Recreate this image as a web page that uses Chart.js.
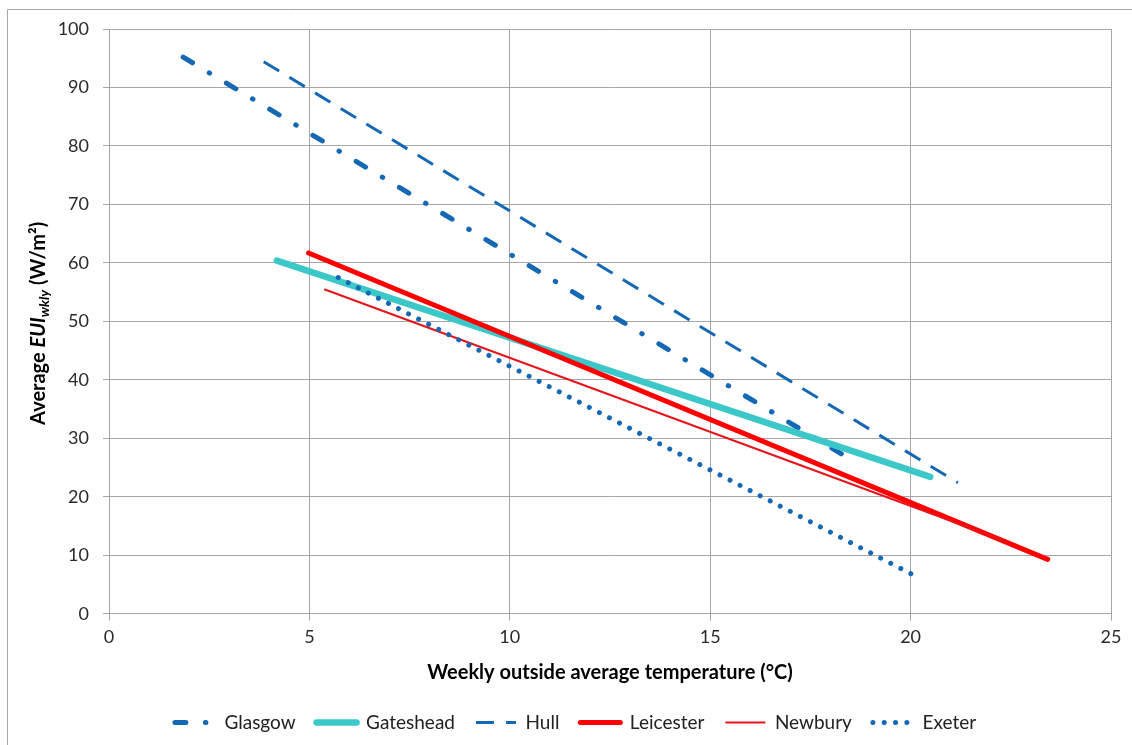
<!DOCTYPE html>
<html>
<head>
<meta charset="utf-8">
<script src="https://cdn.jsdelivr.net/npm/chart.js@4.4.1/dist/chart.umd.min.js"></script>
<style>
  html, body { margin: 0; padding: 0; background: #ffffff; }
  #wrap { width: 1132px; height: 745px; position: relative; }
</style>
</head>
<body>
<div id="wrap"><canvas id="c" width="1132" height="745"></canvas></div>
<script>
// ---- data ----
const seriesNames = ["Glasgow", "Gateshead", "Hull", "Leicester", "Newbury", "Exeter"];
const glasgowX   = [1.85, 18.5];
const glasgowY   = [95.2, 26.4];
const gatesheadX = [4.19, 20.49];
const gatesheadY = [60.4, 23.4];
const hullX      = [3.86, 21.18];
const hullY      = [94.4, 22.4];
const leicesterX = [4.98, 23.42];
const leicesterY = [61.7, 9.3];
const newburyX   = [5.37, 22.3];
const newburyY   = [55.5, 12.6];
const exeterX    = [5.72, 20.03];
const exeterY    = [57.5, 6.75];
const xTickValues = [0, 5, 10, 15, 20, 25];
const yTickValues = [0, 10, 20, 30, 40, 50, 60, 70, 80, 90, 100];

const FONT = "Lato, 'Open Sans', 'DejaVu Sans', sans-serif";
const BLUE = "#1568b3";
const TEAL = "#3cc8c8";
const RED = "#ff0000";
const RED2 = "#e8141b";

function pts(xs, ys) { return xs.map((x, i) => ({ x: x, y: ys[i] })); }

const styles = [
  { color: BLUE, width: 5,   dash: [11, 19.5, 0.5, 19.5], cap: "round", order: 5 },
  { color: TEAL, width: 6.5, dash: [],                   cap: "round", order: 4 },
  { color: BLUE, width: 3,   dash: [18, 12],             cap: "butt",  order: 3 },
  { color: RED,  width: 5,   dash: [],                   cap: "round", order: 2 },
  { color: RED2, width: 2,   dash: [],                   cap: "butt",  order: 1 },
  { color: BLUE, width: 5,   dash: [0.01, 11.3],         cap: "round", order: 0 }
];
const seriesData = [
  pts(glasgowX, glasgowY), pts(gatesheadX, gatesheadY), pts(hullX, hullY),
  pts(leicesterX, leicesterY), pts(newburyX, newburyY), pts(exeterX, exeterY)
];

const datasets = seriesNames.map((name, i) => ({
  label: name,
  data: seriesData[i],
  showLine: true,
  fill: false,
  borderColor: styles[i].color,
  backgroundColor: styles[i].color,
  borderWidth: styles[i].width,
  borderDash: styles[i].dash,
  borderCapStyle: styles[i].cap,
  pointRadius: 0,
  pointHoverRadius: 0,
  pointStyle: "line",
  tension: 0,
  order: styles[i].order
}));

const framePlugin = {
  id: "frame",
  beforeDraw(chart) {
    const ctx = chart.ctx;
    ctx.save();
    ctx.fillStyle = "#ffffff";
    ctx.fillRect(0, 0, chart.width, chart.height);
    ctx.strokeStyle = "#a6a6a6";
    ctx.lineWidth = 1;
    ctx.beginPath();
    ctx.moveTo(7.5, 745);
    ctx.lineTo(7.5, 9.5);
    ctx.lineTo(1132, 9.5);
    ctx.stroke();
    ctx.restore();
  }
};

const legendShiftPlugin = {
  id: "legendShift",
  afterLayout(chart) {
    const lg = chart.legend;
    if (lg) { lg.left += 20; lg.right += 20; }
  }
};

const yTitlePlugin = {
  id: "yTitle",
  afterDraw(chart) {
    const ctx = chart.ctx;
    const area = chart.chartArea;
    const cy = (area.top + area.bottom) / 2 + 2;
    const segs = [
      { t: "Average ", f: "bold 20px " + FONT, dy: 0 },
      { t: "EUI", f: "italic bold 20px " + FONT, dy: 0 },
      { t: "wkly", f: "italic bold 14px " + FONT, dy: 4 },
      { t: " (W/m²)", f: "bold 20px " + FONT, dy: 0 }
    ];
    ctx.save();
    ctx.fillStyle = "#000000";
    ctx.textBaseline = "alphabetic";
    ctx.textAlign = "left";
    let total = 0;
    segs.forEach(s => { ctx.font = s.f; s.w = ctx.measureText(s.t).width; total += s.w; });
    ctx.translate(45, cy);
    ctx.rotate(-Math.PI / 2);
    let x = -total / 2;
    segs.forEach(s => {
      ctx.font = s.f;
      ctx.fillText(s.t, x, s.dy);
      x += s.w;
    });
    ctx.restore();
  }
};

new Chart(document.getElementById("c"), {
  type: "scatter",
  data: { datasets: datasets },
  plugins: [framePlugin, legendShiftPlugin, yTitlePlugin],
  options: {
    responsive: false,
    animation: false,
    devicePixelRatio: 1,
    layout: { padding: { left: 0, right: 21, top: 29, bottom: 3 } },
    plugins: {
      tooltip: { enabled: false },
      legend: {
        position: "bottom",
        labels: {
          usePointStyle: true,
          pointStyleWidth: 40,
          padding: 21,
          color: "#222222",
          font: { family: FONT, size: 19 },
          generateLabels(chart) {
            return chart.data.datasets.map((ds, i) => ({
              text: ds.label,
              fillStyle: ds.borderColor,
              strokeStyle: ds.borderColor,
              fontColor: "#222222",
              lineWidth: ds.borderWidth,
              lineDash: ds.borderDash,
              lineDashOffset: 0,
              lineCap: ds.borderCapStyle,
              lineJoin: "round",
              pointStyle: "line",
              rotation: 0,
              hidden: false,
              datasetIndex: i
            }));
          }
        }
      }
    },
    scales: {
      x: {
        type: "linear",
        min: 0, max: 25,
        afterFit(scale) { scale.height = 78.3; },
        afterBuildTicks(scale) { scale.ticks = xTickValues.map(v => ({ value: v })); },
        grid: { color: "#a6a6a6", lineWidth: 1, tickLength: 7, drawTicks: true },
        border: { color: "#a6a6a6", width: 1 },
        ticks: { color: "#2a2a2a", font: { family: FONT, size: 18 }, padding: 6, maxRotation: 0 },
        title: {
          display: true,
          text: "Weekly outside average temperature (°C)",
          color: "#000000",
          font: { family: FONT, size: 20, weight: "bold" },
          padding: { top: 4, bottom: 7 }
        }
      },
      y: {
        type: "linear",
        min: 0, max: 100,
        afterFit(scale) { scale.width = 109; },
        afterBuildTicks(scale) { scale.ticks = yTickValues.map(v => ({ value: v })); },
        grid: { color: "#a6a6a6", lineWidth: 1, tickLength: 6, drawTicks: true },
        border: { color: "#a6a6a6", width: 1 },
        ticks: { color: "#2a2a2a", font: { family: FONT, size: 18 }, padding: 14 }
      }
    }
  }
});
</script>
</body>
</html>
